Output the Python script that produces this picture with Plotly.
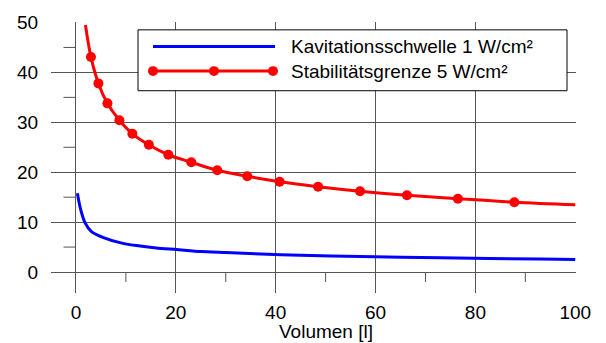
import plotly.graph_objects as go

# ---- data ----
blue_x = [0.3, 0.5, 1.0, 1.8, 3.1, 5.5, 8.8, 12.1, 16.1, 20.1, 25.0, 30.0, 37.0, 45.0, 57.0, 73.0, 93.0, 100.0]
blue_y = [15.8, 14.6, 12.3, 9.9, 8.1, 6.9, 5.9, 5.3, 4.8, 4.5, 4.1, 3.9, 3.6, 3.35, 3.1, 2.85, 2.6, 2.5]

red_line_x = [1.9, 3.0, 4.5, 6.3, 8.7, 11.3, 14.6, 18.5, 23.1, 28.3, 34.3, 40.8, 48.5, 56.9, 66.3, 76.5, 87.8, 100.0]
red_line_y = [49.5, 43.1, 37.8, 33.8, 30.4, 27.7, 25.5, 23.5, 22.0, 20.4, 19.2, 18.1, 17.1, 16.2, 15.4, 14.7, 14.0, 13.5]
red_mark_x = [3.0, 4.5, 6.3, 8.7, 11.3, 14.6, 18.5, 23.1, 28.3, 34.3, 40.8, 48.5, 56.9, 66.3, 76.5, 87.8]
red_mark_y = [43.1, 37.8, 33.8, 30.4, 27.7, 25.5, 23.5, 22.0, 20.4, 19.2, 18.1, 17.1, 16.2, 15.4, 14.7, 14.0]

x_ticks = [0, 20, 40, 60, 80, 100]
y_ticks = [0, 10, 20, 30, 40, 50]
x_minor = [10, 30, 50, 70, 90]
y_minor = [5, 15, 25, 35, 45]

names = ["Kavitationsschwelle 1 W/cm²", "Stabilitätsgrenze 5 W/cm²"]
BLUE = "#0000ff"
RED = "#ff0000"
FONT = "Arial, Liberation Sans, sans-serif"
GRID = "#555555"

W, H = 606, 343
ML, MR, MT, MB = 51, 30, 17, 50
PW, PH = W - ML - MR, H - MT - MB


def px(p):  # pixel x -> paper
    return (p - ML) / PW


def py(q):  # pixel y -> paper
    return (H - MB - q) / PH


fig = go.Figure()
fig.add_trace(go.Scatter(x=blue_x, y=blue_y, mode="lines", name=names[0],
                         line=dict(color=BLUE, width=3, shape="spline", smoothing=0.6), showlegend=False))
fig.add_trace(go.Scatter(x=red_line_x, y=red_line_y, mode="lines", name=names[1],
                         line=dict(color=RED, width=3, shape="spline"), showlegend=False))
fig.add_trace(go.Scatter(x=red_mark_x, y=red_mark_y, mode="markers", name=names[1],
                         marker=dict(color=RED, size=10), showlegend=False))

shapes = []
for v in y_minor:
    shapes.append(dict(type="line", xref="x", yref="y", x0=-2.5, x1=0, y0=v, y1=v,
                       line=dict(color=GRID, width=1)))
for v in x_minor:
    shapes.append(dict(type="line", xref="x", yref="y", x0=v, x1=v, y0=0, y1=-2,
                       line=dict(color=GRID, width=1)))

# custom legend
shapes.append(dict(type="rect", xref="paper", yref="paper", x0=px(138), x1=px(567),
                   y0=py(87), y1=py(25), line=dict(color="black", width=1), fillcolor="white",
                   layer="above"))
shapes.append(dict(type="line", xref="paper", yref="paper", x0=px(153), x1=px(275),
                   y0=py(42), y1=py(42), line=dict(color=BLUE, width=3), layer="above"))
shapes.append(dict(type="line", xref="paper", yref="paper", x0=px(153), x1=px(273),
                   y0=py(67), y1=py(67), line=dict(color=RED, width=3), layer="above"))
for p in [153, 214, 273]:
    shapes.append(dict(type="circle", xref="paper", yref="paper", x0=px(p - 5), x1=px(p + 5),
                       y0=py(67 + 5), y1=py(67 - 5), line=dict(color=RED, width=0),
                       fillcolor=RED, layer="above"))

annotations = [
    dict(xref="paper", yref="paper", x=px(289), y=py(42), text=names[0], showarrow=False,
         xanchor="left", yanchor="middle", font=dict(family=FONT, size=19, color="black")),
    dict(xref="paper", yref="paper", x=px(289), y=py(67), text=names[1], showarrow=False,
         xanchor="left", yanchor="middle", font=dict(family=FONT, size=19, color="black")),
    dict(xref="x", yref="paper", x=50, y=py(332), text="Volumen [l]", showarrow=False,
         xanchor="center", yanchor="middle", font=dict(family=FONT, size=19, color="black")),
]

fig.update_layout(
    width=W, height=H,
    margin=dict(l=ML, r=MR, t=MT, b=MB, pad=0),
    paper_bgcolor="white", plot_bgcolor="white",
    shapes=shapes, annotations=annotations,
    font=dict(family=FONT, size=19, color="black"),
)
fig.update_xaxes(range=[-5, 100.15], tickvals=x_ticks, showgrid=True, gridcolor=GRID, gridwidth=1,
                 zeroline=False, showline=False, ticks="outside", ticklen=2,
                 tickcolor="rgba(0,0,0,0)", tickfont=dict(family=FONT, size=19, color="black"))
fig.update_yaxes(range=[-4.2, 50.1], tickvals=y_ticks, showgrid=True, gridcolor=GRID, gridwidth=1,
                 zeroline=False, showline=False, ticks="outside", ticklen=8,
                 tickcolor="rgba(0,0,0,0)", tickfont=dict(family=FONT, size=19, color="black"))

fig.write_html("out.html")
